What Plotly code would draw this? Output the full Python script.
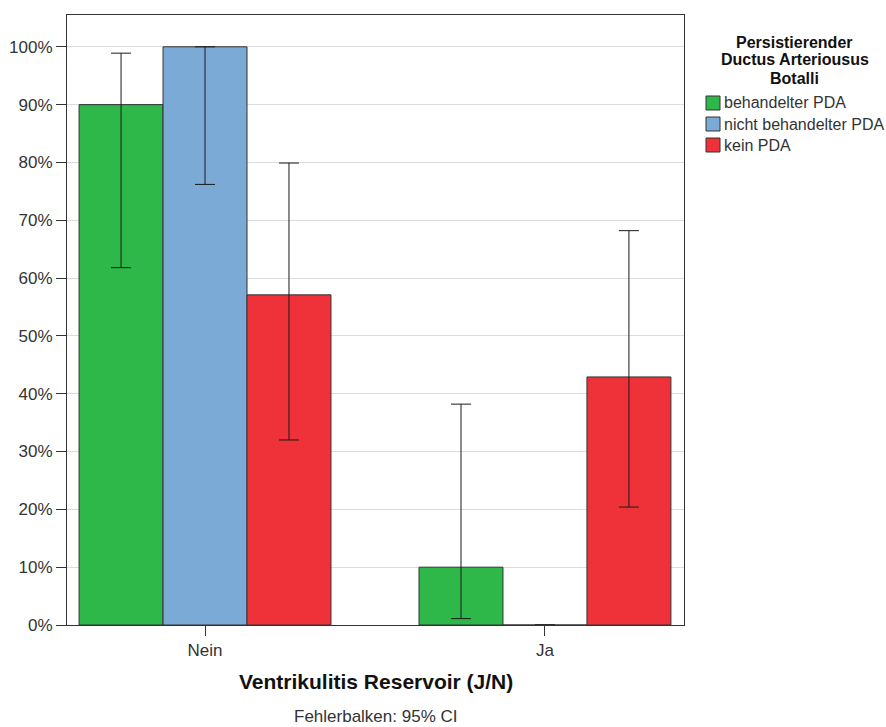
import plotly.graph_objects as go

categories = ["Nein", "Ja"]
series_names = ["behandelter PDA", "nicht behandelter PDA", "kein PDA"]
series_colors = ["#2fb84a", "#7baad7", "#ef323a"]

# percentages per category (Nein, Ja)
values = [
    [90.0, 10.0],
    [100.0, 0.0],
    [57.1, 42.9],
]
# 95% CI bounds per category
ci_low = [
    [61.8, 1.1],
    [76.2, 0.0],
    [32.0, 20.4],
]
ci_high = [
    [98.9, 38.2],
    [100.0, 0.0],
    [79.9, 68.2],
]

ytick_vals = list(range(0, 101, 10))
ytick_text = [f"{v}%" for v in ytick_vals]

legend_title_lines = ["Persistierender", "Ductus Arteriousus", "Botalli"]
x_title = "Ventrikulitis Reservoir (J/N)"
footnote = "Fehlerbalken: 95% CI"

FONT = "Liberation Sans, Arial, sans-serif"
W, H = 886, 727
ML, MR, MT, MB = 67, 202, 15, 102
PW, PH = W - ML - MR, H - MT - MB


def px_x(px):
    return (px - ML) / PW


def px_y(py):
    return (H - MB - py) / PH


fig = go.Figure()
for name, color, vals, lo, hi in zip(series_names, series_colors, values, ci_low, ci_high):
    has_err = [h > 0 for h in hi]
    fig.add_trace(go.Bar(
        name=name,
        x=categories,
        y=vals,
        marker=dict(color=color, line=dict(color="#333333", width=1)),
        error_y=dict(
            type="data",
            symmetric=False,
            array=[h - v if e else None for h, v, e in zip(hi, vals, has_err)],
            arrayminus=[v - l if e else None for l, v, e in zip(lo, vals, has_err)],
            color="#1a1a1a",
            thickness=1,
            width=10,
            visible=True,
        ),
        showlegend=False,
    ))

annotations = []
shapes = []

# legend title, one line per annotation
for i, line in enumerate(legend_title_lines):
    annotations.append(dict(
        text=f"<b>{line}</b>", xref="paper", yref="paper",
        x=px_x(794.5), y=px_y(42 + 18 * i), xanchor="center", yanchor="middle",
        showarrow=False, font=dict(family=FONT, size=16, color="#111111"),
    ))

# legend entries
for i, (name, color) in enumerate(zip(series_names, series_colors)):
    cy = 103 + 21 * i
    shapes.append(dict(
        type="rect", xref="paper", yref="paper",
        x0=px_x(706), x1=px_x(720), y0=px_y(cy + 7), y1=px_y(cy - 7),
        fillcolor=color, line=dict(color="#333333", width=1),
    ))
    annotations.append(dict(
        text=name, xref="paper", yref="paper",
        x=px_x(722), y=px_y(cy), xanchor="left", yanchor="middle",
        showarrow=False, font=dict(family=FONT, size=16, color="#333333"),
    ))

annotations.append(dict(
    text=f"<b>{x_title}</b>", xref="paper", yref="paper",
    x=0.5, y=px_y(681), xanchor="center", yanchor="middle", showarrow=False,
    font=dict(family=FONT, size=21, color="#111111"),
))
annotations.append(dict(
    text=footnote, xref="paper", yref="paper",
    x=0.5, y=px_y(717), xanchor="center", yanchor="middle", showarrow=False,
    font=dict(family=FONT, size=17, color="#333333"),
))

fig.update_layout(
    width=W,
    height=H,
    margin=dict(l=ML, r=MR, t=MT, b=MB, autoexpand=False),
    paper_bgcolor="white",
    plot_bgcolor="white",
    barmode="group",
    bargap=0.259,
    bargroupgap=0,
    font=dict(family=FONT, size=17, color="#333333"),
    showlegend=False,
    xaxis=dict(
        range=[-0.406, 1.409],
        showline=True, linecolor="#333333", linewidth=1, mirror=True,
        ticks="outside", ticklen=10, tickcolor="#333333",
        tickfont=dict(size=17, color="#333333"),
    ),
    yaxis=dict(
        range=[0, 105.5],
        tickvals=ytick_vals, ticktext=ytick_text,
        showline=True, linecolor="#333333", linewidth=1, mirror=True,
        ticks="outside", ticklen=10, tickcolor="#333333",
        tickfont=dict(size=17, color="#333333"),
        showgrid=True, gridcolor="#dcdcdc", gridwidth=1,
        zeroline=False,
    ),
    annotations=annotations,
    shapes=shapes,
)

fig.write_html("out.html")
